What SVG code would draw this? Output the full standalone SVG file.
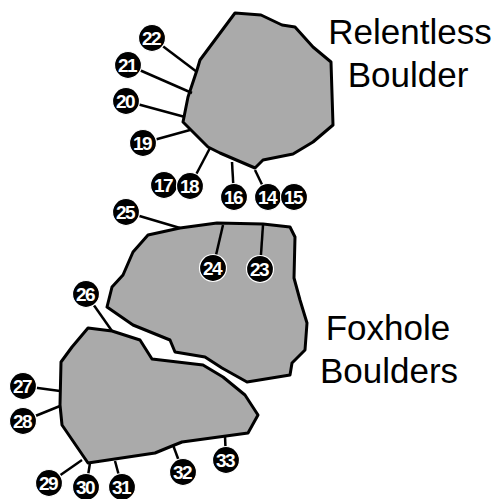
<svg xmlns="http://www.w3.org/2000/svg" width="497" height="499" viewBox="0 0 497 499">
<style>
.b{fill:#aaaaaa;stroke:#000;stroke-width:3;stroke-linejoin:round}
.c line{stroke:#000;stroke-width:2.5}
.n circle{fill:#000;stroke:#fff;stroke-width:1.2}
.n text{fill:#fff;font-family:"Liberation Sans",Arial,sans-serif;font-weight:bold;font-size:19px;text-anchor:middle;letter-spacing:-1.5px}
.t{font-family:"Liberation Sans",Arial,sans-serif;font-size:35px;text-anchor:middle;fill:#000}
</style>
<rect width="497" height="499" fill="#fff"/>
<g id="relentless-boulder"><polygon class="b" points="235,13 261,15 282,25 295,27 313,47 331,62 333,125 313,142 293,154 263,160 255,168 220,153 208,147 183,122 188,97 197,70 200,60"/></g>
<g id="foxhole-upper"><polygon class="b" points="148,235 180,228 217,223 263,224 290,227 295,237 294,278 300,300 307,323 305,350 292,363 290,375 247,382 222,368 205,357 175,352 170,340 133,325 107,307 112,287 123,275 133,252"/></g>
<g id="foxhole-lower"><polygon class="b" points="88,328 112,331 140,340 152,359 203,365 223,377 245,395 258,415 248,433 182,442 172,446 155,453 88,463 62,425 60,405 61,362 72,347"/></g>
<g id="connectors" class="c">
<line x1="152" y1="38" x2="197" y2="72"/>
<line x1="128" y1="65" x2="192" y2="93"/>
<line x1="126" y1="101" x2="185" y2="117"/>
<line x1="143" y1="143" x2="190" y2="130"/>
<line x1="190" y1="186" x2="210" y2="148"/>
<line x1="234" y1="197" x2="232" y2="162"/>
<line x1="268" y1="197" x2="255" y2="170"/>
<line x1="126" y1="212" x2="180" y2="228"/>
<line x1="213" y1="268" x2="223" y2="225"/>
<line x1="260" y1="269" x2="263" y2="225"/>
<line x1="86" y1="294" x2="112" y2="331"/>
<line x1="23" y1="386" x2="60" y2="391"/>
<line x1="23" y1="421" x2="60" y2="406"/>
<line x1="49" y1="483" x2="82" y2="460"/>
<line x1="86" y1="488" x2="90" y2="463"/>
<line x1="122" y1="487" x2="115" y2="461"/>
<line x1="183" y1="472" x2="173" y2="445"/>
<line x1="226" y1="460" x2="225" y2="436"/>
</g>
<g class="n" id="n22"><circle cx="152" cy="38" r="13.5"/><text x="151" y="45">22</text></g>
<g class="n" id="n21"><circle cx="128" cy="65" r="13.5"/><text x="127" y="72">21</text></g>
<g class="n" id="n20"><circle cx="126" cy="101" r="13.5"/><text x="125" y="108">20</text></g>
<g class="n" id="n19"><circle cx="143" cy="143" r="13.5"/><text x="142" y="150">19</text></g>
<g class="n" id="n17"><circle cx="164" cy="185" r="13.5"/><text x="163" y="192">17</text></g>
<g class="n" id="n18"><circle cx="190" cy="186" r="13.5"/><text x="189" y="193">18</text></g>
<g class="n" id="n16"><circle cx="234" cy="197" r="13.5"/><text x="233" y="204">16</text></g>
<g class="n" id="n14"><circle cx="268" cy="197" r="13.5"/><text x="267" y="204">14</text></g>
<g class="n" id="n15"><circle cx="294" cy="197" r="13.5"/><text x="293" y="204">15</text></g>
<g class="n" id="n25"><circle cx="126" cy="212" r="13.5"/><text x="125" y="219">25</text></g>
<g class="n" id="n24"><circle cx="213" cy="268" r="13.5"/><text x="212" y="275">24</text></g>
<g class="n" id="n23"><circle cx="260" cy="269" r="13.5"/><text x="259" y="276">23</text></g>
<g class="n" id="n26"><circle cx="86" cy="294" r="13.5"/><text x="85" y="301">26</text></g>
<g class="n" id="n27"><circle cx="23" cy="386" r="13.5"/><text x="22" y="393">27</text></g>
<g class="n" id="n28"><circle cx="23" cy="421" r="13.5"/><text x="22" y="428">28</text></g>
<g class="n" id="n29"><circle cx="49" cy="483" r="13.5"/><text x="48" y="490">29</text></g>
<g class="n" id="n30"><circle cx="86" cy="487" r="13.5"/><text x="85" y="494">30</text></g>
<g class="n" id="n31"><circle cx="122" cy="487" r="13.5"/><text x="121" y="494">31</text></g>
<g class="n" id="n32"><circle cx="183" cy="472" r="13.5"/><text x="182" y="479">32</text></g>
<g class="n" id="n33"><circle cx="226" cy="460" r="13.5"/><text x="225" y="467">33</text></g>
<text class="t" x="410" y="44">Relentless</text>
<text class="t" x="408" y="87">Boulder</text>
<text class="t" x="388" y="340">Foxhole</text>
<text class="t" x="389" y="383">Boulders</text>
</svg>
